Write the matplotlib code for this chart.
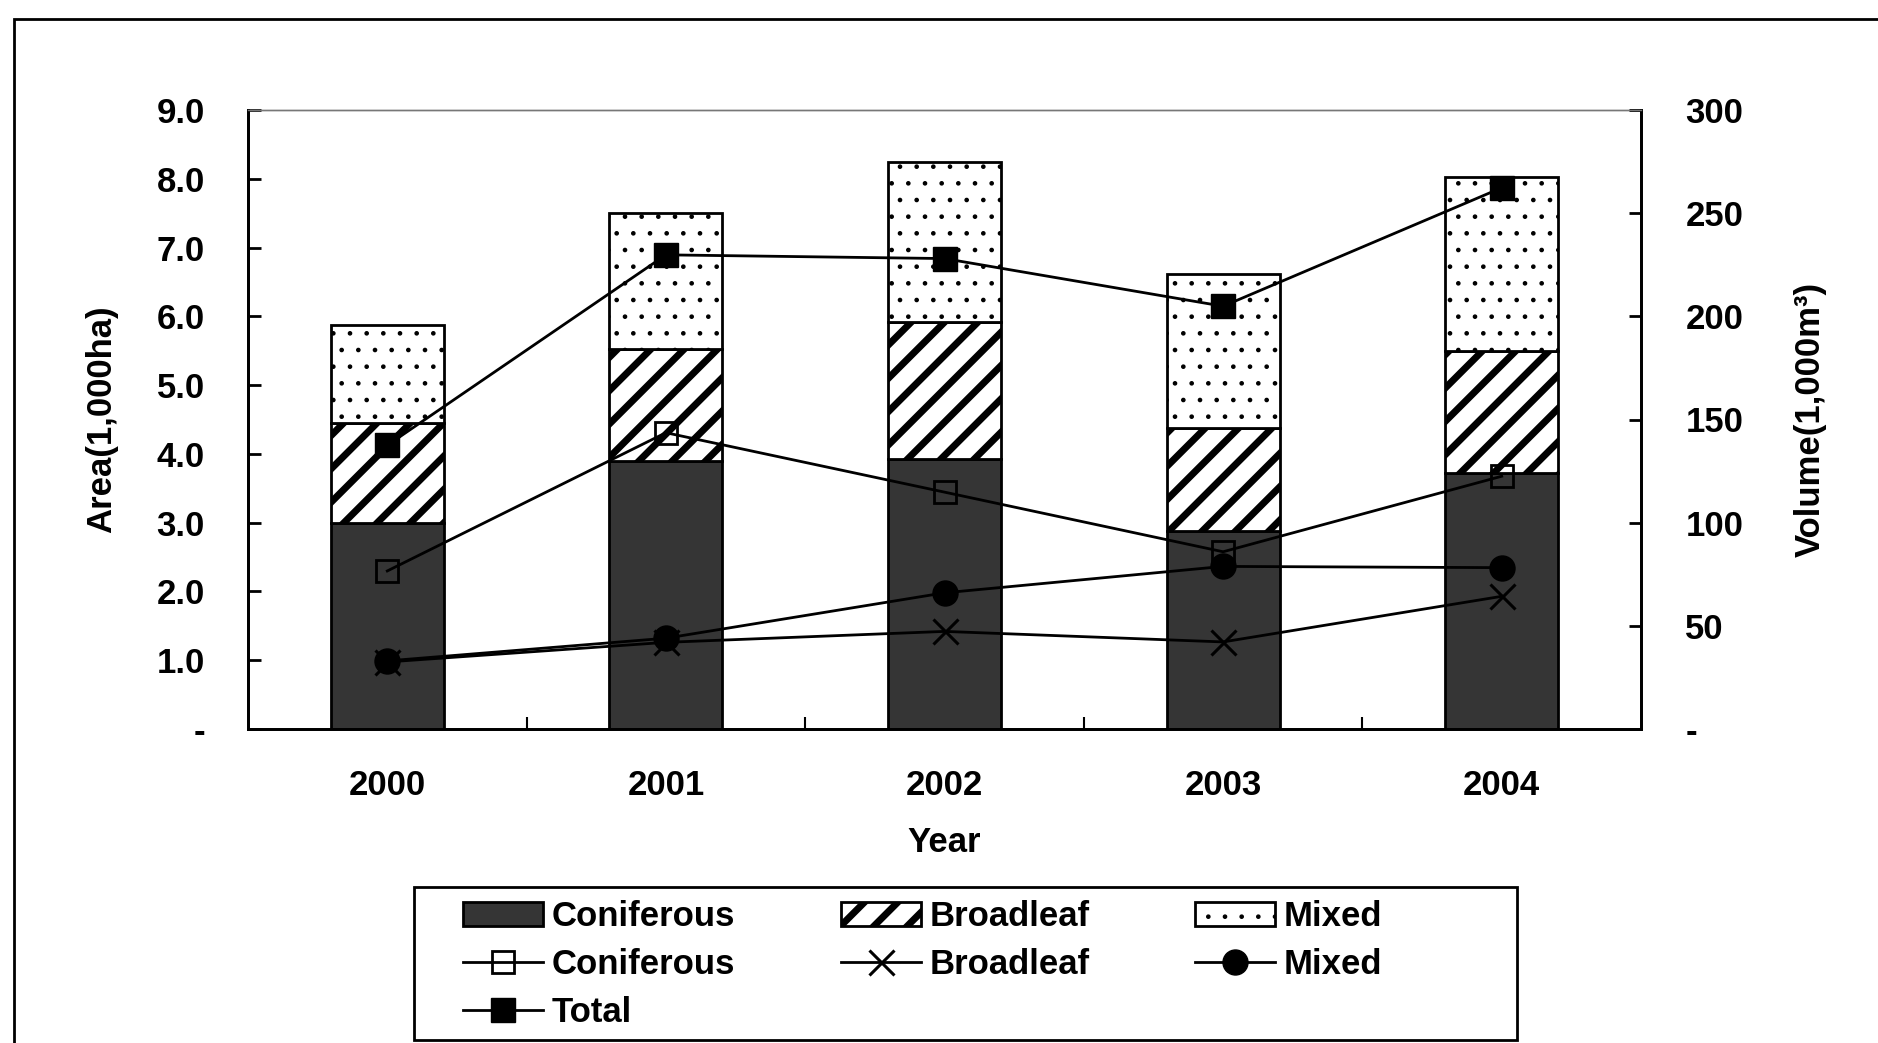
import matplotlib as mpl
import matplotlib.pyplot as plt
from matplotlib.patches import Rectangle
import numpy as np

plt.rcParams['font.family'] = ['Liberation Sans', 'DejaVu Sans']
plt.rcParams['font.weight'] = 'bold'
plt.rcParams['axes.labelweight'] = 'bold'
plt.rcParams['font.size'] = 25

years = ['2000', '2001', '2002', '2003', '2004']

# area (1,000 ha), stacked bars
area_conif = [3.00, 3.89, 3.92, 2.88, 3.72]
area_broad = [1.45, 1.63, 2.00, 1.50, 1.78]
area_mixed = [1.42, 1.98, 2.33, 2.24, 2.53]

# volume (1,000 m3), lines
vol_conif = [76.6, 143.6, 114.8, 85.9, 122.5]
vol_broad = [32.5, 42.0, 47.3, 42.2, 64.3]
vol_mixed = [33.0, 44.0, 66.0, 78.8, 78.2]
vol_total = [137.5, 229.8, 228.0, 204.9, 262.3]

x = np.arange(len(years))
w = 0.405

fig = plt.figure(figsize=(18.78, 10.43), dpi=100)
ax = fig.add_axes([248/1878, 1-729/1043, (1641-248)/1878, (729-110)/1043])
ax2 = ax.twinx()

b1 = ax.bar(x, area_conif, w, color='#353535', edgecolor='black', lw=2, label='Coniferous')
bot = np.array(area_conif)
with plt.rc_context({'hatch.linewidth': 5}):
    b2 = ax.bar(x, area_broad, w, bottom=bot, color='white', edgecolor='black', lw=2,
                hatch='/', label='Broadleaf')
bot = bot + np.array(area_broad)
with plt.rc_context({'hatch.linewidth': 0.9}):
    b3 = ax.bar(x, area_mixed, w, bottom=bot, color='white', edgecolor='black', lw=2,
                hatch='.', label='Mixed')

l1, = ax2.plot(x, vol_conif, '-s', color='black', lw=2, ms=16, mfc='none', mew=2, label='Coniferous')
l2, = ax2.plot(x, vol_broad, '-x', color='black', lw=2, ms=18, mew=2.2, label='Broadleaf')
l3, = ax2.plot(x, vol_mixed, '-o', color='black', lw=2, ms=18, label='Mixed')
l4, = ax2.plot(x, vol_total, '-s', color='black', lw=2, ms=17, label='Total')

ax.set_xlim(-0.5, 4.5)
ax.set_ylim(0, 9)
ax2.set_ylim(0, 300)

ax.set_yticks(np.arange(0, 10, 1))
ax.set_yticklabels(['-'] + ['%.1f' % v for v in range(1, 10)])
ax2.set_yticks(np.arange(0, 301, 50))
ax2.set_yticklabels(['-'] + [str(v) for v in range(50, 301, 50)])

ax.set_xticks(x)
ax.set_xticklabels(years)
ax.set_xticks(np.arange(0.5, 4.5, 1), minor=True)
ax.tick_params(axis='x', which='major', length=0, pad=29)
ax.tick_params(axis='x', which='minor', direction='in', length=9, width=1.5)
ax.tick_params(axis='y', direction='in', length=9, width=2, pad=31)
ax2.tick_params(axis='y', direction='in', length=9, width=2, pad=32)

for a in (ax, ax2):
    for s in a.spines.values():
        s.set_linewidth(2)
    a.spines['top'].set_linewidth(1)
    a.spines['top'].set_color('#777777')

ax.set_xlabel('Year', labelpad=17)
ax.set_ylabel('Area(1,000ha)', labelpad=28)
ax2.set_ylabel('Volume(1,000m³)', labelpad=36)

# legend: filled column-wise, so order gives the 3-per-row layout
handles = [b1, l1, l4, b2, l2, b3, l3]
labels = ['Coniferous', 'Coniferous', 'Total', 'Broadleaf', 'Broadleaf', 'Mixed', 'Mixed']
leg = fig.legend(handles, labels, ncol=3, loc='upper left', bbox_to_anchor=(463/1878, 1-900/1043),
                 frameon=False, borderpad=0, borderaxespad=0, handlelength=2.3, handletextpad=0.25,
                 columnspacing=3.05, labelspacing=0.43, fontsize=25)
for h, lw in ((leg.legend_handles[3], 5), (leg.legend_handles[5], 0.9)):
    if hasattr(h, 'set_hatch_linewidth'):
        h.set_hatch_linewidth(lw)
    else:
        h._hatch_linewidth = lw

fig.patches.append(Rectangle((414/1878, 1-1040/1043), (1517-414)/1878, (1040-887)/1043,
                             transform=fig.transFigure, fill=False, ec='black', lw=2))
fig.patches.append(Rectangle((14/1878, -0.2), 1.5, 1.2-19/1043,
                             transform=fig.transFigure, fill=False, ec='black', lw=2))

fig.savefig('out.png', dpi=100)
